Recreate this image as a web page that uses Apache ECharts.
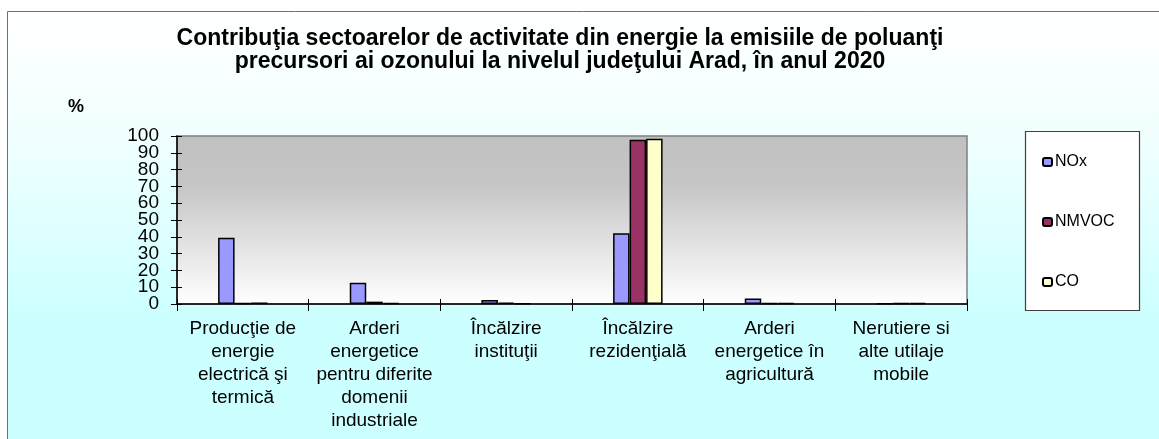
<!DOCTYPE html>
<html>
<head>
<meta charset="utf-8">
<script src="https://cdn.jsdelivr.net/npm/echarts@6/dist/echarts.min.js"></script>
<style>
html,body{margin:0;padding:0;background:#fff;}
#chart{width:1159px;height:439px;}
</style>
</head>
<body>
<div id="chart"></div>
<script>
const titleText = "Contribuţia sectoarelor de activitate din energie la emisiile de poluanţi\nprecursori ai ozonului la nivelul judeţului Arad, în anul 2020";
const yAxisName = "%";
const categories = [
  "Producţie de\nenergie\nelectrică şi\ntermică",
  "Arderi\nenergetice\npentru diferite\ndomenii\nindustriale",
  "Încălzire\ninstituţii",
  "Încălzire\nrezidenţială",
  "Arderi\nenergetice în\nagricultură",
  "Nerutiere si\nalte utilaje\nmobile"
];
const seriesNames = ["NOx", "NMVOC", "CO"];
const noxValues   = [39.5, 12.6, 2.4, 42.1, 3.2, 0.4];
const nmvocValues = [0.5, 1.4, 0.8, 97.8, 0.6, 0.5];
const coValues    = [0.9, 0.7, 0.4, 98.3, 0.5, 0.5];
const yTickLabels = [0, 10, 20, 30, 40, 50, 60, 70, 80, 90, 100];
const yMin = 0, yMax = 100, yStep = 10;

const FONT = "Liberation Sans, Arial, sans-serif";
const colors = ["#9999ff", "#993366", "#ffffcc"];
const evenLabels = yTickLabels.filter((v, i) => i % 2 === 0);
const oddLabels = yTickLabels.filter((v, i) => i % 2 === 1);

const chart = echarts.init(document.getElementById('chart'), null, {renderer: 'canvas'});

function barSeries(name, data, color) {
  return {
    name: name,
    type: 'bar',
    data: data,
    barWidth: 16.5,
    barGap: '0%',
    itemStyle: {color: color, borderColor: '#000', borderWidth: 1.5},
    emphasis: {disabled: true}
  };
}

const yLabelStyle = {
  margin: 18, fontFamily: FONT, fontSize: 19, color: '#000',
  showMinLabel: true, showMaxLabel: true, hideOverlap: false
};

const option = {
  backgroundColor: '#ffffff',
  animation: false,
  graphic: [
    {
      type: 'rect', z: -100, silent: true,
      shape: {x: 7.5, y: 11.5, width: 1160, height: 440},
      style: {
        fill: new echarts.graphic.LinearGradient(0, 0, 0, 1, [
          {offset: 0, color: '#ffffff'},
          {offset: 0.3, color: '#f0ffff'},
          {offset: 0.7, color: '#ccffff'},
          {offset: 1, color: '#ccffff'}
        ]),
        stroke: '#707070', lineWidth: 1
      }
    },
    {
      type: 'rect', z: -50, silent: true,
      shape: {x: 1025.5, y: 131.5, width: 114, height: 179},
      style: {fill: '#ffffff', stroke: '#404040', lineWidth: 1.2}
    },
    {
      type: 'text', silent: true,
      x: 560, y: 27,
      style: {
        text: titleText, fill: '#000',
        font: 'bold 23px ' + FONT,
        align: 'center', verticalAlign: 'top', lineHeight: 23
      }
    },
    {
      type: 'text', silent: true,
      x: 76, y: 107,
      style: {
        text: yAxisName, fill: '#000',
        font: 'bold 18px ' + FONT,
        align: 'center', verticalAlign: 'middle'
      }
    }
  ],
  legend: {
    data: seriesNames,
    orient: 'vertical',
    left: 1042, top: 154,
    itemWidth: 9, itemHeight: 8,
    itemGap: 44,
    padding: 0,
    textStyle: {fontFamily: FONT, fontSize: 16, color: '#000', padding: [0, 0, 0, -2]},
    selectedMode: false
  },
  grid: {
    left: 177, right: 192, top: 136, bottom: 135,
    containLabel: false,
    outerBoundsMode: 'none',
    show: true,
    backgroundColor: new echarts.graphic.LinearGradient(0, 0, 0, 1, [
      {offset: 0, color: '#c0c0c0'},
      {offset: 0.3, color: '#c6c6c6'},
      {offset: 1, color: '#ffffff'}
    ]),
    borderColor: '#808080',
    borderWidth: 1.5
  },
  xAxis: [
    {
      type: 'category',
      data: categories,
      position: 'bottom',
      axisLine: {show: true, lineStyle: {color: '#000', width: 1.5}},
      axisTick: {show: true, inside: false, length: 7, lineStyle: {color: '#000', width: 1}},
      axisLabel: {
        interval: 0, margin: 13, hideOverlap: false,
        fontFamily: FONT, fontSize: 19, lineHeight: 23, color: '#000', align: 'center'
      },
      splitLine: {show: false}
    },
    {
      type: 'category',
      data: categories,
      position: 'bottom', offset: 0,
      axisLine: {show: false},
      axisTick: {show: true, inside: true, length: 5, lineStyle: {color: '#000', width: 1}},
      axisLabel: {show: false},
      splitLine: {show: false}
    }
  ],
  yAxis: [
    {
      type: 'value',
      min: yMin, max: yMax, interval: yStep,
      position: 'left',
      axisLine: {show: true, lineStyle: {color: '#000', width: 1.5}},
      axisTick: {show: true, inside: false, length: 6, lineStyle: {color: '#000', width: 1}},
      axisLabel: Object.assign({customValues: evenLabels}, yLabelStyle),
      splitLine: {show: false}
    },
    {
      type: 'value',
      min: yMin, max: yMax, interval: yStep,
      position: 'left', offset: 0,
      axisLine: {show: false},
      axisTick: {show: true, inside: true, length: 5, lineStyle: {color: '#000', width: 1}},
      axisLabel: Object.assign({customValues: oddLabels}, yLabelStyle),
      splitLine: {show: false}
    }
  ],
  series: [
    barSeries(seriesNames[0], noxValues, colors[0]),
    barSeries(seriesNames[1], nmvocValues, colors[1]),
    barSeries(seriesNames[2], coValues, colors[2])
  ]
};
chart.setOption(option);
</script>
</body>
</html>
